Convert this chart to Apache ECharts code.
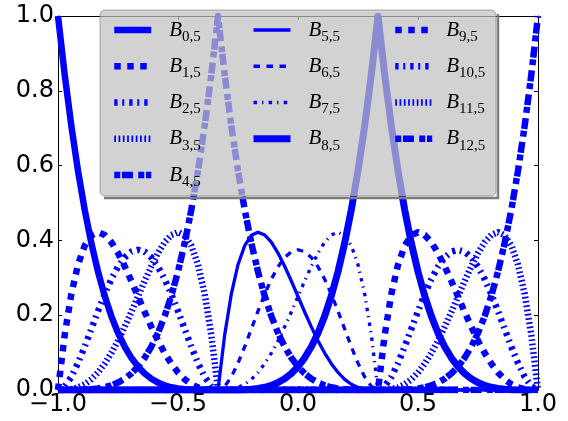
<!DOCTYPE html>
<html><head><meta charset="utf-8">
<script src="https://cdn.jsdelivr.net/npm/echarts@6/dist/echarts.min.js"></script>
<style>html,body{margin:0;padding:0;background:#fff}#c{width:568px;height:421px}</style>
</head><body><div id="c"></div>
<script>
// x sample positions
const xs = [
-1,-0.9722,-0.9444,-0.9167,-0.8889,-0.8611,-0.8333,-0.8056,-0.7778,-0.75,-0.7222,-0.6944,
-0.6667,-0.6389,-0.6111,-0.5833,-0.5556,-0.5278,-0.5,-0.4722,-0.4444,-0.4167,-0.3889,-0.3611,
-0.3333,-0.3056,-0.2778,-0.25,-0.2222,-0.1944,-0.1667,-0.1389,-0.1111,-0.0833,-0.0556,-0.0278,
0,0.0278,0.0556,0.0833,0.1111,0.1389,0.1667,0.1944,0.2222,0.25,0.2778,0.3056,
0.3333,0.3611,0.3889,0.4167,0.4444,0.4722,0.5,0.5278,0.5556,0.5833,0.6111,0.6389,
0.6667,0.6944,0.7222,0.75,0.7778,0.8056,0.8333,0.8611,0.8889,0.9167,0.9444,0.9722,1];

const b0 = [
1,0.8435,0.7061,0.5862,0.4823,0.3928,0.3164,0.2517,0.1975,0.1526,0.1158,0.0861,
0.0625,0.0441,0.0301,0.0198,0.0123,0.0072,0.0039,0.0019,0.0008,0.0002,0,0,
0,0,0,0,0,0,0,0,0,0,0,0,0,
0,0,0,0,0,0,0,0,0,0,0,0,
0,0,0,0,0,0,0,0,0,0,0,0];
const b1 = [
0,0.1467,0.2568,0.3350,0.3858,0.4135,0.4219,0.4146,0.3951,0.3662,0.3308,0.2914,
0.25,0.2086,0.1688,0.1318,0.0988,0.0703,0.0469,0.0286,0.0154,0.0068,0.0021,0.0003,
0,0,0,0,0,0,0,0,0,0,0,0,0,
0,0,0,0,0,0,0,0,0,0,0,0,
0,0,0,0,0,0,0,0,0,0,0,0];
const b2 = [
0,0.0096,0.0350,0.0718,0.1157,0.1632,0.2109,0.2561,0.2963,0.3296,0.3545,0.3698,
0.375,0.3698,0.3545,0.3296,0.2963,0.2561,0.2109,0.1632,0.1157,0.0718,0.0350,0.0096,
0,0,0,0,0,0,0,0,0,0,0,0,0,
0,0,0,0,0,0,0,0,0,0,0,0,
0,0,0,0,0,0,0,0,0,0,0,0];
const b3 = [
0,0.0003,0.0021,0.0068,0.0154,0.0286,0.0469,0.0703,0.0988,0.1318,0.1688,0.2086,
0.25,0.2914,0.3308,0.3662,0.3951,0.4146,0.4219,0.4135,0.3858,0.3350,0.2568,0.1467,
0,0,0,0,0,0,0,0,0,0,0,0,0,
0,0,0,0,0,0,0,0,0,0,0,0,
0,0,0,0,0,0,0,0,0,0,0,0];
const b4 = [
0,0,0,0.0002,0.0008,0.0019,0.0039,0.0072,0.0123,0.0198,0.0301,0.0441,
0.0625,0.0861,0.1158,0.1526,0.1975,0.2517,0.3164,0.3928,0.4823,0.5862,0.7061,0.8435,
1,0.8435,0.7061,0.5862,0.4823,0.3928,0.3164,0.2517,0.1975,0.1526,0.1158,0.0861,
0.0625,0.0441,0.0301,0.0198,0.0123,0.0072,0.0039,0.0019,0.0008,0.0002,0,0,
0,0,0,0,0,0,0,0,0,0,0,0,0,
0,0,0,0,0,0,0,0,0,0,0,0];
const b5 = [
0,0,0,0,0,0,0,0,0,0,0,0,
0,0,0,0,0,0,0,0,0,0,0,0,
0,0.1467,0.2568,0.3350,0.3858,0.4135,0.4219,0.4146,0.3951,0.3662,0.3308,0.2914,
0.25,0.2086,0.1688,0.1318,0.0988,0.0703,0.0469,0.0286,0.0154,0.0068,0.0021,0.0003,
0,0,0,0,0,0,0,0,0,0,0,0,0,
0,0,0,0,0,0,0,0,0,0,0,0];
const b6 = [
0,0,0,0,0,0,0,0,0,0,0,0,
0,0,0,0,0,0,0,0,0,0,0,0,
0,0.0096,0.0350,0.0718,0.1157,0.1632,0.2109,0.2561,0.2963,0.3296,0.3545,0.3698,
0.375,0.3698,0.3545,0.3296,0.2963,0.2561,0.2109,0.1632,0.1157,0.0718,0.0350,0.0096,
0,0,0,0,0,0,0,0,0,0,0,0,0,
0,0,0,0,0,0,0,0,0,0,0,0];
const b7 = [
0,0,0,0,0,0,0,0,0,0,0,0,
0,0,0,0,0,0,0,0,0,0,0,0,
0,0.0003,0.0021,0.0068,0.0154,0.0286,0.0469,0.0703,0.0988,0.1318,0.1688,0.2086,
0.25,0.2914,0.3308,0.3662,0.3951,0.4146,0.4219,0.4135,0.3858,0.3350,0.2568,0.1467,
0,0,0,0,0,0,0,0,0,0,0,0,0,
0,0,0,0,0,0,0,0,0,0,0,0];
const b8 = [
0,0,0,0,0,0,0,0,0,0,0,0,
0,0,0,0,0,0,0,0,0,0,0,0,
0,0,0,0.0002,0.0008,0.0019,0.0039,0.0072,0.0123,0.0198,0.0301,0.0441,
0.0625,0.0861,0.1158,0.1526,0.1975,0.2517,0.3164,0.3928,0.4823,0.5862,0.7061,0.8435,
1,0.8435,0.7061,0.5862,0.4823,0.3928,0.3164,0.2517,0.1975,0.1526,0.1158,0.0861,
0.0625,0.0441,0.0301,0.0198,0.0123,0.0072,0.0039,0.0019,0.0008,0.0002,0,0];
const b9 = [
0,0,0,0,0,0,0,0,0,0,0,0,
0,0,0,0,0,0,0,0,0,0,0,0,
0,0,0,0,0,0,0,0,0,0,0,0,
0,0,0,0,0,0,0,0,0,0,0,0,
0,0.1467,0.2568,0.3350,0.3858,0.4135,0.4219,0.4146,0.3951,0.3662,0.3308,0.2914,
0.25,0.2086,0.1688,0.1318,0.0988,0.0703,0.0469,0.0286,0.0154,0.0068,0.0021,0.0003,0];
const b10 = [
0,0,0,0,0,0,0,0,0,0,0,0,
0,0,0,0,0,0,0,0,0,0,0,0,
0,0,0,0,0,0,0,0,0,0,0,0,
0,0,0,0,0,0,0,0,0,0,0,0,
0,0.0096,0.0350,0.0718,0.1157,0.1632,0.2109,0.2561,0.2963,0.3296,0.3545,0.3698,
0.375,0.3698,0.3545,0.3296,0.2963,0.2561,0.2109,0.1632,0.1157,0.0718,0.0350,0.0096,0];
const b11 = [
0,0,0,0,0,0,0,0,0,0,0,0,
0,0,0,0,0,0,0,0,0,0,0,0,
0,0,0,0,0,0,0,0,0,0,0,0,
0,0,0,0,0,0,0,0,0,0,0,0,
0,0.0003,0.0021,0.0068,0.0154,0.0286,0.0469,0.0703,0.0988,0.1318,0.1688,0.2086,
0.25,0.2914,0.3308,0.3662,0.3951,0.4146,0.4219,0.4135,0.3858,0.3350,0.2568,0.1467,0];
const b12 = [
0,0,0,0,0,0,0,0,0,0,0,0,
0,0,0,0,0,0,0,0,0,0,0,0,
0,0,0,0,0,0,0,0,0,0,0,0,
0,0,0,0,0,0,0,0,0,0,0,0,
0,0,0,0.0002,0.0008,0.0019,0.0039,0.0072,0.0123,0.0198,0.0301,0.0441,
0.0625,0.0861,0.1158,0.1526,0.1975,0.2517,0.3164,0.3928,0.4823,0.5862,0.7061,0.8435,1];

const names = ['B0,5','B1,5','B2,5','B3,5','B4,5','B5,5','B6,5','B7,5','B8,5','B9,5','B10,5','B11,5','B12,5'];
const subs = ['0,5','1,5','2,5','3,5','4,5','5,5','6,5','7,5','8,5','9,5','10,5','11,5','12,5'];
const xTickValues = [-1, -0.5, 0, 0.5, 1];
const yTickValues = [0, 0.2, 0.4, 0.6, 0.8, 1];
const allY = [b0,b1,b2,b3,b4,b5,b6,b7,b8,b9,b10,b11,b12];

// styles (not data)
const styles = [
  {width:6.5, type:'solid'},
  {width:6.5, type:[6.5,6.5]},
  {width:6.5, type:[3.3,4.7,2,5]},
  {width:6.5, type:[1.7,2.6]},
  {width:6.5, type:[6,1.7,11,5.3]},
  {width:3.3, type:'solid'},
  {width:3.3, type:[6.5,6.5]},
  {width:3.3, type:[3.5,5,1.3,5.3]},
  {width:7, type:'solid'},
  {width:6.5, type:[6.5,6.5]},
  {width:6.5, type:[3.3,4.7,2,5]},
  {width:6.5, type:[1.7,2.6]},
  {width:6.5, type:[6,1.7,11,5.3]}
];
const cols = [[0,1,2,3,4],[5,6,7,8],[9,10,11,12]];
const colLeft = [111, 250, 392];
const colTextPad = [13, 13, 9];

const chart = echarts.init(document.getElementById('c'), null, {renderer:'canvas'});
const fmt = v => (v < 0 ? '\u2212' : '') + Math.abs(v).toFixed(1);
const tickFont = {fontFamily:'DejaVu Sans', fontSize:24, color:'#000'};
const axisBase = {
  axisLine:{show:true, onZero:false, lineStyle:{color:'#000', width:1}},
  axisTick:{show:true, inside:true, length:4, lineStyle:{color:'#000', width:1}},
  splitLine:{show:false}
};
const subIndex = {};
names.forEach((n,i)=>subIndex[n]=subs[i]);

const option = {
  animation:false,
  backgroundColor:'#fff',
  grid:{left:58, top:16, right:30, bottom:31, containLabel:false},
  xAxis:[
    Object.assign({type:'value', min:-1, max:1, interval:0.5, position:'bottom',
      axisLabel:Object.assign({show:true, margin:3, formatter:fmt}, tickFont)}, axisBase),
    Object.assign({type:'value', min:-1, max:1, interval:0.5, position:'top',
      axisLabel:{show:false}}, axisBase)
  ],
  yAxis:[
    Object.assign({type:'value', min:0, max:1, interval:0.2, position:'left',
      axisLabel:Object.assign({show:true, margin:4, formatter:fmt}, tickFont)}, axisBase),
    Object.assign({type:'value', min:0, max:1, interval:0.2, position:'right',
      axisLabel:{show:false}}, axisBase)
  ],
  graphic:[
    {type:'polyline', z:3, shape:{points:[[498,14],[498,198],[104,198]]},
     style:{stroke:'#7d7d7d', lineWidth:2.5, fill:null}},
    {type:'rect', z:3, shape:{x:100, y:10, width:396, height:186, r:5},
     style:{fill:'rgba(192,192,192,0.72)', stroke:'rgba(110,110,110,0.55)', lineWidth:1}}
  ],
  legend: cols.map((c,ci)=>({
    orient:'vertical', left:colLeft[ci], top:19.5, padding:0,
    itemWidth:37, itemHeight:14, itemGap:11.25, selectedMode:false, z:5,
    itemStyle:{opacity:0, borderWidth:0},
    data:c.map(i=>({name:names[i], lineStyle:{width:styles[i].width, type:styles[i].type, color:'#0000ff', cap:'butt'}})),
    formatter:n=>'{b|B}{s|'+subIndex[n]+'}',
    textStyle:{color:'#000', rich:{
      b:{fontFamily:'Liberation Serif', fontStyle:'italic', fontSize:21, lineHeight:29, padding:[0,0,0,colTextPad[ci]], color:'#000'},
      s:{fontFamily:'Liberation Serif', fontSize:15, lineHeight:6, verticalAlign:'bottom', color:'#000'}
    }}
  })),
  series: allY.map((ys,i)=>({
    name:names[i], type:'line', xAxisIndex:0, yAxisIndex:0,
    data: xs.map((x,j)=>[x, ys[j]]),
    symbol:'none', showSymbol:false, smooth:false, clip:true, z:2,
    lineStyle:{color:'#0000ff', width:styles[i].width, type:styles[i].type, join:'round', cap:'butt'},
    itemStyle:{color:'#0000ff'},
    emphasis:{disabled:true}
  }))
};
chart.setOption(option);
</script></body></html>
